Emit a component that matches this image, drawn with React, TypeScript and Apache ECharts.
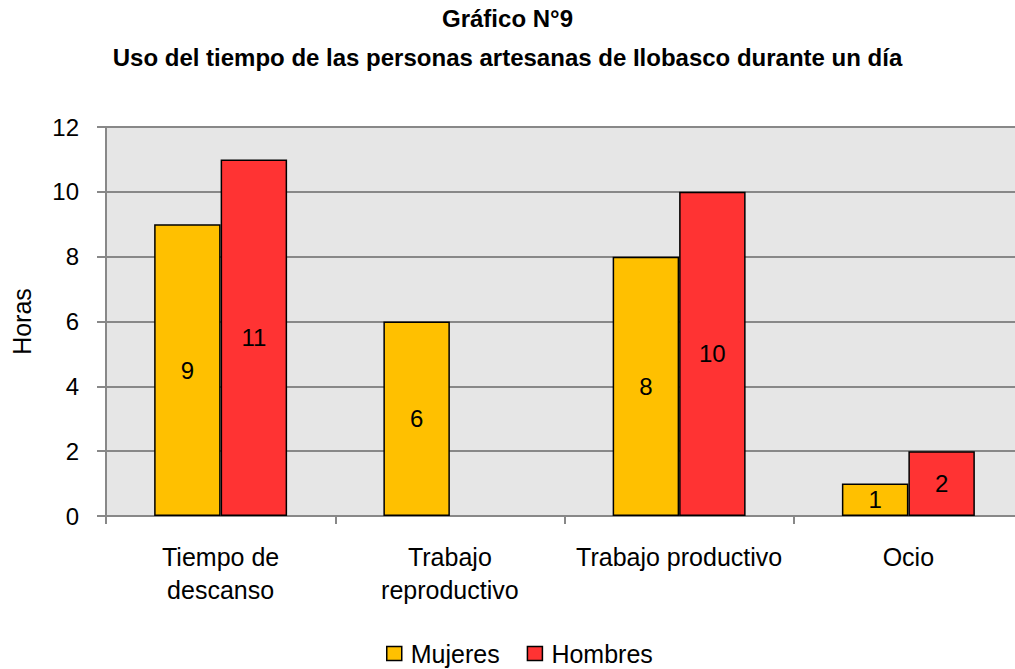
import React, { useEffect, useRef } from "react";
import * as echarts from "echarts";

const categories = ["Tiempo de\ndescanso", "Trabajo\nreproductivo", "Trabajo productivo", "Ocio"];
const mujeres = [9, 6, 8, 1];
const hombres: (number | null)[] = [11, null, 10, 2];
const titleLines = ["Gráfico N°9", "Uso del tiempo de las personas artesanas de Ilobasco durante un día"];
const yTitle = "Horas";

const FONT = "'Liberation Sans Narrow', 'Arial Narrow', 'Liberation Sans', Arial, sans-serif";

export default function App() {
  const ref = useRef<HTMLDivElement>(null);
  useEffect(() => {
    const chart = echarts.init(ref.current!, null, { renderer: "svg" });
    const labelStyle = {
      show: true,
      position: "inside" as const,
      color: "#000",
      fontSize: 24,
      fontFamily: FONT,
    };
    chart.setOption({
      animation: false,
      textStyle: { fontFamily: FONT },
      title: {
        text: titleLines.join("\n"),
        left: "center",
        top: -6,
        textStyle: { fontSize: 24, fontWeight: "bold", color: "#000", fontFamily: FONT, lineHeight: 39 },
      },
      legend: {
        top: 636,
        left: 381,
        itemWidth: 15,
        itemHeight: 14,
        itemGap: 27,
        icon: "rect",
        itemStyle: { borderColor: "#000", borderWidth: 1.5 },
        textStyle: { fontSize: 25, color: "#000", fontFamily: FONT, padding: [0, 0, 0, 4] },
        data: ["Mujeres", "Hombres"],
      },
      grid: {
        left: 106,
        top: 127,
        width: 917,
        bottom: 669 - 516,
        outerBoundsMode: "none",
        containLabel: false,
        show: true,
        backgroundColor: "#E6E6E6",
        borderWidth: 0,
      },
      xAxis: {
        type: "category",
        data: categories,
        axisLine: { show: true, lineStyle: { color: "#888", width: 2 } },
        axisTick: { show: true, interval: 0, length: 8, lineStyle: { color: "#888", width: 2 } },
        axisLabel: { interval: 0, fontSize: 25, color: "#000", fontFamily: FONT, margin: 24, lineHeight: 33 },
      },
      yAxis: {
        type: "value",
        min: 0,
        max: 12,
        interval: 2,
        name: yTitle,
        nameLocation: "middle",
        nameGap: 72,
        nameTextStyle: { fontSize: 25, color: "#000", fontFamily: FONT },
        axisLine: { show: true, lineStyle: { color: "#888", width: 2 } },
        axisTick: { show: true, length: 9, lineStyle: { color: "#888", width: 2 } },
        axisLabel: { fontSize: 24, color: "#000", fontFamily: FONT, margin: 27 },
        splitLine: { show: true, lineStyle: { color: "#888", width: 2 } },
      },
      series: [
        {
          name: "Mujeres",
          type: "bar",
          data: mujeres,
          barGap: "0%",
          barCategoryGap: "42%",
          itemStyle: { color: "#FFC000", borderColor: "#000", borderWidth: 1.5 },
          label: labelStyle,
        },
        {
          name: "Hombres",
          type: "bar",
          data: hombres,
          itemStyle: { color: "#FF3333", borderColor: "#000", borderWidth: 1.5 },
          label: labelStyle,
        },
      ],
    });
    return () => chart.dispose();
  }, []);
  return (
    <div
      ref={ref}
      style={{ position: "absolute", left: 0, top: 0, width: 1015, height: 669, background: "#fff" }}
    />
  );
}
